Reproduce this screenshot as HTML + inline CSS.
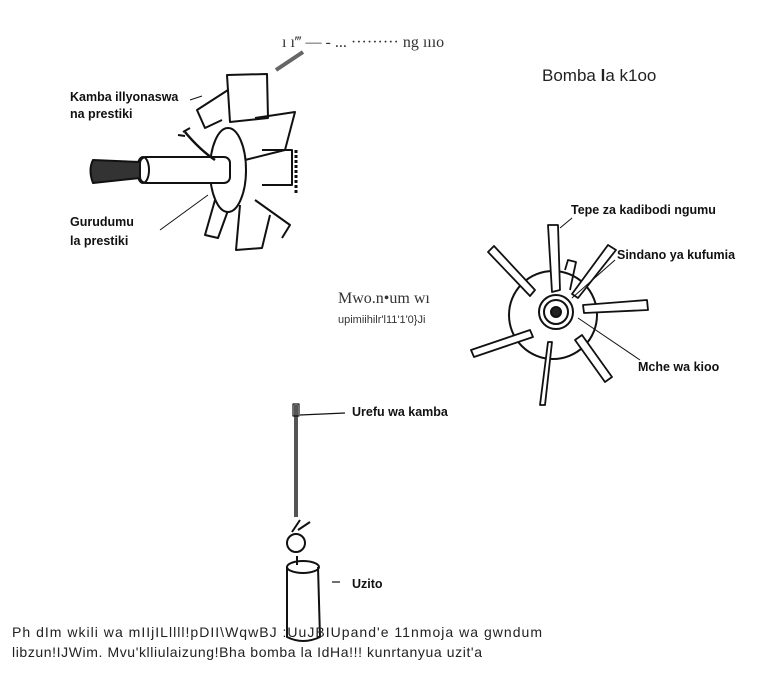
<!DOCTYPE html>
<html><head><meta charset="utf-8"><style>
body{margin:0;background:#fff;}
svg{display:block;}
.b{font-family:"Liberation Sans",sans-serif;font-weight:bold;font-size:12.5px;fill:#111;}
</style></head><body>
<svg width="780" height="688" viewBox="0 0 780 688" xmlns="http://www.w3.org/2000/svg">
<g fill="none" stroke="#111" stroke-width="2" stroke-linejoin="round">
<!-- top-left fan -->
<path d="M227 75 L267 74 L268 118 L230 122 Z" fill="#fff"/>
<path d="M228 90 L197 110 L205 128 L222 120"/>
<path d="M255 118 L295 112 L285 150 L245 160"/>
<path d="M262 150 L292 150 L292 185 L262 185"/>
<path d="M215 200 L205 235 L218 238 L230 205"/>
<path d="M240 205 L236 250 L262 248 L270 215"/>
<path d="M255 200 L290 225 L282 238"/>
<ellipse cx="228" cy="170" rx="18" ry="42" fill="#fff"/>
<rect x="140" y="157" width="90" height="26" rx="6" fill="#fff"/>
<ellipse cx="143" cy="170" rx="6" ry="13"/>
<path d="M93 160 Q88 170 93 183 L140 178 L140 162 Z" fill="#333"/>
<path d="M185 132 Q200 150 215 160" stroke-width="2.5"/>
<path d="M183 132 L190 128 M185 136 L178 135"/>
<path d="M160 230 L208 195" stroke-width="1"/>
<path d="M190 100 L202 96" stroke-width="1"/>
<path d="M276 70 L303 52" stroke="#666" stroke-width="4"/>
<path d="M296 150 L296 195" stroke-dasharray="3 2" stroke-width="3"/>
<!-- pinwheel -->
<circle cx="553" cy="315" r="44"/>
<circle cx="556" cy="312" r="17"/>
<circle cx="556" cy="312" r="12"/>
<circle cx="556" cy="312" r="5" fill="#222"/>
<g stroke-width="1.8">
<path d="M548 225 L558 225 L560 290 L552 292 Z" fill="#fff"/>
<path d="M488 252 L494 246 L535 290 L530 296 Z" fill="#fff"/>
<path d="M608 245 L616 250 L578 298 L572 294 Z" fill="#fff"/>
<path d="M583 305 L647 300 L648 310 L584 313 Z" fill="#fff"/>
<path d="M575 340 L582 335 L612 377 L605 382 Z" fill="#fff"/>
<path d="M548 342 L552 342 L545 405 L540 405 Z" fill="#fff"/>
<path d="M530 330 L533 337 L474 357 L471 350 Z" fill="#fff"/>
<path d="M565 270 L568 260 L576 262 L570 290"/>
</g>
<g stroke-width="1">
<path d="M560 228 L572 218"/>
<path d="M572 298 L615 260"/>
<path d="M578 318 L640 360"/>
</g>
<!-- weight -->
<rect x="294" y="405" width="4" height="112" fill="#555" stroke="none"/>
<rect x="293" y="404" width="6" height="12" stroke-width="1.2"/>
<path d="M300 415 L345 413" stroke-width="1.2"/>
<circle cx="296" cy="543" r="9"/>
<path d="M292 532 L300 520 M298 530 L310 522"/>
<path d="M287 567 L287 637 Q303 645 320 637 L318 567"/>
<ellipse cx="303" cy="567" rx="16" ry="6"/>
<path d="M297 556 L297 565"/>
<path d="M332 582 L340 582" stroke-width="1.2"/>
</g>
<text class="b" x="70" y="101">Kamba illyonaswa</text>
<text class="b" x="70" y="118">na prestiki</text>
<text class="b" x="70" y="226">Gurudumu</text>
<text class="b" x="70" y="245">la prestiki</text>
<text x="542" y="81" font-family="Liberation Sans,sans-serif" font-size="17" fill="#222">Bomba  <tspan font-weight="bold">l</tspan>a  k1oo</text>
<text x="282" y="47" font-family="Liberation Serif,serif" font-size="16" fill="#333">ı ı‴   —  - ...  ········· ng ıııo</text>
<text class="b" x="571" y="214">Tepe za kadibodi ngumu</text>
<text class="b" x="617" y="259">Sindano ya kufumia</text>
<text class="b" x="638" y="371">Mche wa kioo</text>
<text x="338" y="303" font-family="Liberation Serif,serif" font-size="16" fill="#333">Mwo.n•um wı</text>
<text x="338" y="323" font-family="Liberation Sans,sans-serif" font-size="11" fill="#333">upimiihilr'l11'1'0}Ji</text>
<text class="b" x="352" y="416">Urefu wa kamba</text>
<text class="b" x="352" y="588">Uzito</text>
<text x="12" y="637" font-family="Liberation Sans,sans-serif" font-size="14" fill="#222" textLength="530">Ph dIm wkili wa mIIjILllll!pDII\WqwBJ :UuJBIUpand'e 11nmoja wa gwndum</text>
<text x="12" y="657" font-family="Liberation Sans,sans-serif" font-size="14" fill="#222" textLength="470">libzun!IJWim. Mvu'klliulaizung!Bha bomba la IdHa!!! kunrtanyua uzit'a</text>
</svg>
</body></html>
